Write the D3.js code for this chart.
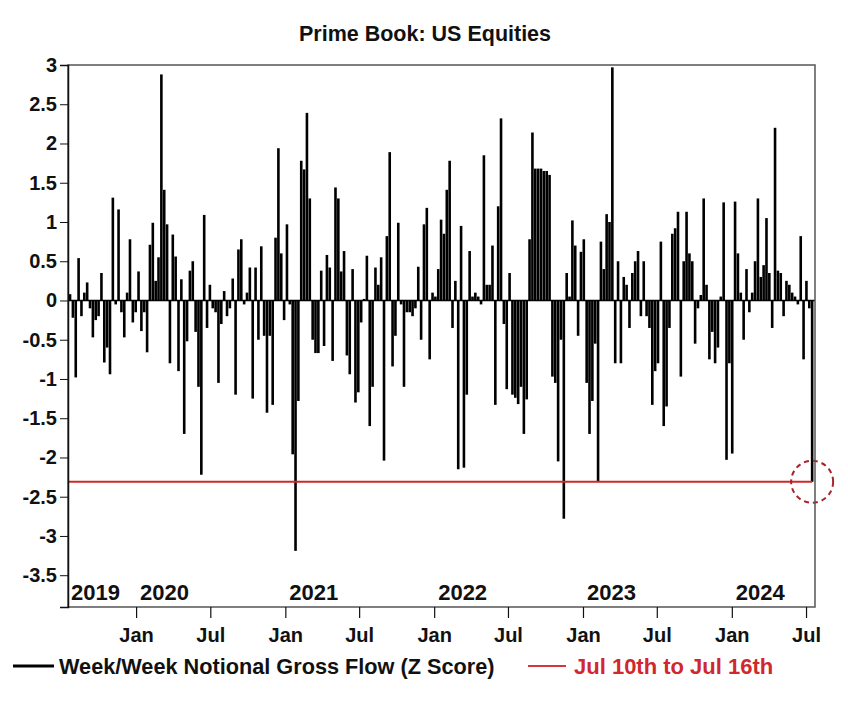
<!DOCTYPE html>
<html>
<head>
<meta charset="utf-8">
<script src="https://cdn.jsdelivr.net/npm/d3@7"></script>
<style>
  html, body { margin: 0; padding: 0; background: #fff; }
  svg text { font-family: 'Liberation Sans', Arial, sans-serif; font-weight: bold; fill: #111; }
</style>
</head>
<body>
<svg id="chart" width="848" height="707"></svg>
<script>
// ---- data ----
const title = "Prime Book: US Equities";
const firstWeekEnd = "2019-07-23";   // weekly observations, last = week Jul 10th to Jul 16th 2024
const flowZ = [
  0.08, -0.22, -0.98, 0.54, -0.2, 0.1, 0.23, -0.1, -0.47, -0.25,
  -0.2, 0.35, -0.79, -0.6, -0.94, 1.31, -0.05, 1.16, -0.15, -0.47,
  0.1, 0.78, -0.28, -0.15, 0.37, -0.39, -0.15, -0.66, 0.71, 0.99,
  0.25, 0.55, 2.88, 1.41, 0.97, -0.8, 0.84, 0.56, -0.9, 0.27,
  -1.70, -0.52, 0.38, 0.5, -0.4, -1.1, -2.22, 1.09, -0.35, 0.2,
  -0.1, -0.15, -1.05, -0.3, 0.12, -0.2, -0.1, 0.28, -1.2, 0.65,
  0.78, -0.05, 0.1, 0.42, -1.25, 0.42, -0.5, 0.69, -0.45, -1.43,
  -0.45, -1.33, 0.8, 1.94, 0.6, -0.25, 0.97, -0.05, -1.96, -3.19,
  -1.28, 1.78, 1.67, 2.39, 1.3, -0.5, -0.67, -0.67, 0.38, -0.58,
  0.58, 0.42, -0.77, 1.44, 1.3, 0.37, 0.63, -0.7, -0.94, 0.4,
  -1.3, -1.17, -0.28, 0.02, 0.57, -1.6, -1.1, 0.42, 0.2, 0.55,
  -2.04, 0.82, 1.89, -0.84, -0.45, 0.99, -0.05, -1.1, -0.15, -0.15,
  -0.2, -0.1, 0.43, -0.5, 0.97, 1.18, -0.75, 0.1, 0.05, 0.4,
  1.03, 0.85, 1.41, 1.78, -0.35, 0.25, -2.15, 0.95, -2.13, -1.2,
  0.63, 0.05, 0.1, 0.05, -0.05, 1.85, 0.2, 0.2, 0.7, -1.33,
  1.2, 2.32, -0.3, -1.13, 0.35, -1.2, -1.24, -1.32, -1.1, -1.7,
  -1.26, 0.78, 2.14, 1.68, 1.68, 1.68, 1.65, 1.65, 1.6, -0.97,
  -1.05, -2.05, -0.5, -2.78, 0.35, 0.05, 1.02, 0.7, -0.45, 0.62,
  0.78, -1.05, -1.7, -1.28, -0.55, -2.3, 0.75, 0.4, 1.1, 1.0,
  2.97, -0.8, 0.5, -0.8, 0.3, 0.2, -0.35, 0.35, 0.5, 0.63,
  -0.2, 0.5, -0.2, -0.35, -1.33, -0.9, -0.8, 0.75, -1.6, -1.35,
  -0.35, 0.85, 0.92, 1.13, -0.97, 0.5, 1.13, 0.6, 0.5, -0.55,
  -0.1, 0.07, 1.3, 0.2, -0.75, -0.4, -0.8, -0.6, 0.05, 1.25,
  -2.03, -0.8, -1.95, 1.26, 0.6, 0.1, -0.5, 0.4, -0.15, 0.1,
  0.5, 1.3, 0.3, 0.45, 1.05, 0.35, -0.35, 2.2, 0.38, 0.35,
  -0.2, 0.25, 0.2, 0.1, 0.05, -0.05, 0.82, -0.75, 0.25, -0.1,
  -2.31
];
const latestValue = -2.31;
const yTicks = [3, 2.5, 2, 1.5, 1, 0.5, 0, -0.5, -1, -1.5, -2, -2.5, -3, -3.5];
const monthTicks = ["2020-01-01","2020-07-01","2021-01-01","2021-07-01","2022-01-01",
                    "2022-07-01","2023-01-01","2023-07-01","2024-01-01","2024-07-01"];
const yearLabels = ["2019","2020","2021","2022","2023","2024"];
const legendLabels = ["Week/Week Notional Gross Flow (Z Score)", "Jul 10th to Jul 16th"];

// ---- build ----
const parse = d3.utcParse("%Y-%m-%d");
const start = parse(firstWeekEnd);
const data = flowZ.map((v, i) => ({ date: d3.utcDay.offset(start, 7 * i), value: v }));

const L = 68, R = 815, T = 65, B = 607;
const x = d3.scaleUtc()
  .domain([parse("2019-07-18"), parse("2024-07-23")])
  .range([L, R]);
const y = d3.scaleLinear().domain([-3.905, 3]).range([B, T]);

const svg = d3.select("#chart");

// title
svg.append("text").attr("x", 425).attr("y", 41).attr("text-anchor", "middle")
  .style("font-size", "21.5px").text(title);

// bars
const bw = 2.6;
svg.append("g").selectAll("rect").data(data).join("rect")
  .attr("x", d => x(d.date) - bw / 2)
  .attr("width", bw)
  .attr("y", d => Math.min(y(d.value), y(0)))
  .attr("height", d => Math.abs(y(d.value) - y(0)))
  .attr("fill", "#000");

// zero line
svg.append("line").attr("x1", L).attr("x2", R).attr("y1", y(0)).attr("y2", y(0))
  .attr("stroke", "#000").attr("stroke-width", 1.5);

// red reference line & circle
const last = data[data.length - 1];
svg.append("line").attr("x1", L).attr("x2", x(last.date))
  .attr("y1", y(latestValue)).attr("y2", y(latestValue))
  .attr("stroke", "#cc2a2a").attr("stroke-width", 2);
svg.append("circle").attr("cx", x(last.date)).attr("cy", y(latestValue)).attr("r", 21)
  .attr("fill", "none").attr("stroke", "#a8242b").attr("stroke-width", 2)
  .attr("stroke-dasharray", "5,4");

// frame
svg.append("rect").attr("x", L).attr("y", T).attr("width", R - L).attr("height", B - T)
  .attr("fill", "none").attr("stroke", "#555").attr("stroke-width", 1.5);

// y axis
const yAxis = svg.append("g").attr("transform", `translate(${L},0)`)
  .call(d3.axisLeft(y).tickValues(yTicks).tickSize(8).tickPadding(3).tickFormat(d => String(d)));
yAxis.select(".domain").attr("stroke", "#111").attr("stroke-width", 1.5);
yAxis.selectAll(".tick line").attr("stroke", "#111");
yAxis.selectAll("text").style("font-size", "20px").attr("fill", "#111")
  .style("font-family", "'Liberation Sans', Arial, sans-serif").style("font-weight", "bold");

// x axis (Jan / Jul)
const mt = monthTicks.map(parse);
const xAxis = svg.append("g").attr("transform", `translate(0,${B})`)
  .call(d3.axisBottom(x).tickValues(mt).tickSize(11).tickPadding(10)
    .tickFormat(d => d.getUTCMonth() === 0 ? "Jan" : "Jul"));
xAxis.select(".domain").remove();
xAxis.selectAll(".tick line").attr("stroke", "#111").attr("stroke-width", 1.2);
xAxis.selectAll("text").style("font-size", "20px").attr("fill", "#111")
  .style("font-family", "'Liberation Sans', Arial, sans-serif").style("font-weight", "bold");

// year labels inside plot, left-aligned at each January
svg.append("g").selectAll("text").data(yearLabels).join("text")
  .attr("x", (d, i) => i === 0 ? L + 3 : x(parse(d + "-01-01")) + 4)
  .attr("y", 600)
  .style("font-size", "22px")
  .text(d => d);

// legend
svg.append("line").attr("x1", 13).attr("x2", 54).attr("y1", 666).attr("y2", 666)
  .attr("stroke", "#000").attr("stroke-width", 3);
svg.append("text").attr("x", 59).attr("y", 674).style("font-size", "21.7px").text(legendLabels[0]);
svg.append("line").attr("x1", 528).attr("x2", 566).attr("y1", 666).attr("y2", 666)
  .attr("stroke", "#d0393c").attr("stroke-width", 2);
svg.append("text").attr("x", 574).attr("y", 674).style("font-size", "22px")
  .style("fill", "#d0282e").text(legendLabels[1]);
</script>
</body>
</html>
